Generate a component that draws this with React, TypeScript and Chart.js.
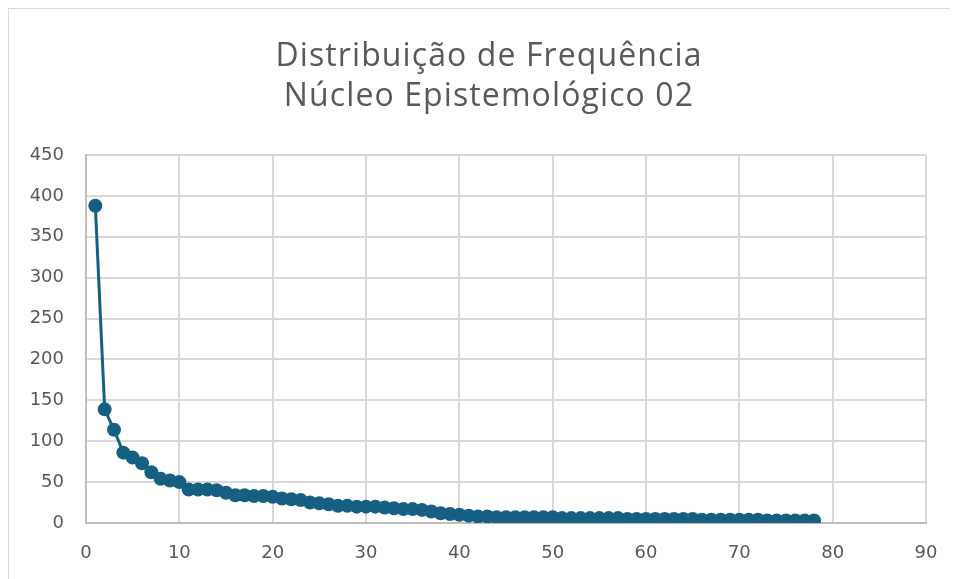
import React, { useEffect, useRef } from "react";
import { Chart, registerables } from "chart.js";

Chart.register(...registerables);

const titleLines = ["Distribuição de Frequência", "Núcleo Epistemológico 02"];

const ranks = [
  1, 2, 3, 4, 5, 6, 7, 8, 9, 10, 11, 12, 13, 14, 15, 16, 17, 18, 19, 20,
  21, 22, 23, 24, 25, 26, 27, 28, 29, 30, 31, 32, 33, 34, 35, 36, 37, 38, 39, 40,
  41, 42, 43, 44, 45, 46, 47, 48, 49, 50, 51, 52, 53, 54, 55, 56, 57, 58, 59, 60,
  61, 62, 63, 64, 65, 66, 67, 68, 69, 70, 71, 72, 73, 74, 75, 76, 77, 78,
];

const frequencies = [
  388, 139, 114, 86, 80, 73, 62, 54, 52, 50,
  41, 41, 41, 40, 37, 34, 34, 33, 33, 32,
  30, 29, 28, 25, 24, 23, 21, 21, 20, 20,
  20, 19, 18, 17, 17, 16, 14, 12, 11, 10,
  9, 8, 8, 7, 7, 7, 7, 7, 7, 7,
  6, 6, 6, 6, 6, 6, 6, 5, 5, 5,
  5, 5, 5, 5, 5, 4, 4, 4, 4, 4,
  4, 4, 3, 3, 3, 3, 3, 3,
];

const xTicks = [0, 10, 20, 30, 40, 50, 60, 70, 80, 90];
const yTicks = [0, 50, 100, 150, 200, 250, 300, 350, 400, 450];

const LINE_COLOR = "#156082";
const TEXT_COLOR = "#595959";
const GRID_COLOR = "#d9d9d9";
const TICK_FONT = "'DejaVu Sans', sans-serif";
const TITLE_FONT = "'Open Sans', sans-serif";

const titlePlugin = {
  id: "customTitle",
  afterDraw(chart: any) {
    const ctx = chart.ctx as CanvasRenderingContext2D;
    ctx.save();
    ctx.fillStyle = TEXT_COLOR;
    ctx.font = `32px ${TITLE_FONT}`;
    (ctx as any).letterSpacing = "1.1px";
    ctx.textAlign = "center";
    ctx.textBaseline = "alphabetic";
    const cx = chart.width / 2;
    const baselines = [57, 97];
    titleLines.forEach((line, i) => ctx.fillText(line, cx, baselines[i]));
    ctx.restore();
  },
};

export default function App() {
  const canvasRef = useRef<HTMLCanvasElement | null>(null);

  useEffect(() => {
    if (!canvasRef.current) return;
    const points = ranks.map((r, i) => ({ x: r, y: frequencies[i] }));
    const chart = new Chart(canvasRef.current, {
      type: "line",
      data: {
        datasets: [
          {
            data: points,
            borderColor: LINE_COLOR,
            backgroundColor: LINE_COLOR,
            borderWidth: 3,
            pointRadius: 7,
            pointHoverRadius: 7,
            pointBackgroundColor: LINE_COLOR,
            pointBorderColor: LINE_COLOR,
            pointBorderWidth: 0,
            tension: 0,
          },
        ],
      },
      options: {
        animation: false,
        responsive: false,
        maintainAspectRatio: false,
        layout: { padding: { left: 0, right: 43, top: 146, bottom: 0 } },
        plugins: {
          legend: { display: false },
          tooltip: { enabled: false },
          title: { display: false },
        },
        scales: {
          x: {
            type: "linear",
            min: xTicks[0],
            max: xTicks[xTicks.length - 1],
            afterBuildTicks: (scale: any) => {
              scale.ticks = xTicks.map((v) => ({ value: v }));
            },
            afterFit: (scale: any) => {
              scale.height = 66;
            },
            grid: { color: GRID_COLOR, lineWidth: 2, drawTicks: false },
            border: { color: "#bfbfbf", width: 2 },
            ticks: {
              color: TEXT_COLOR,
              font: { family: TICK_FONT, size: 18 },
              padding: 20,
              maxRotation: 0,
            },
          },
          y: {
            type: "linear",
            min: yTicks[0],
            max: yTicks[yTicks.length - 1],
            afterBuildTicks: (scale: any) => {
              scale.ticks = yTicks.map((v) => ({ value: v }));
            },
            afterFit: (scale: any) => {
              scale.width = 77;
            },
            grid: { color: GRID_COLOR, lineWidth: 2, drawTicks: false },
            border: { color: "#bfbfbf", width: 2 },
            ticks: {
              color: TEXT_COLOR,
              font: { family: TICK_FONT, size: 18 },
              padding: 22,
            },
          },
        },
      },
      plugins: [titlePlugin],
    });
    return () => chart.destroy();
  }, []);

  return (
    <div style={{ width: 950, height: 571, overflow: "hidden" }}>
      <div
        style={{
          width: 962,
          height: 582,
          border: "1px solid #d9d9d9",
          background: "#ffffff",
          boxSizing: "border-box",
        }}
      >
        <canvas ref={canvasRef} width={960} height={580} style={{ display: "block" }} />
      </div>
    </div>
  );
}
